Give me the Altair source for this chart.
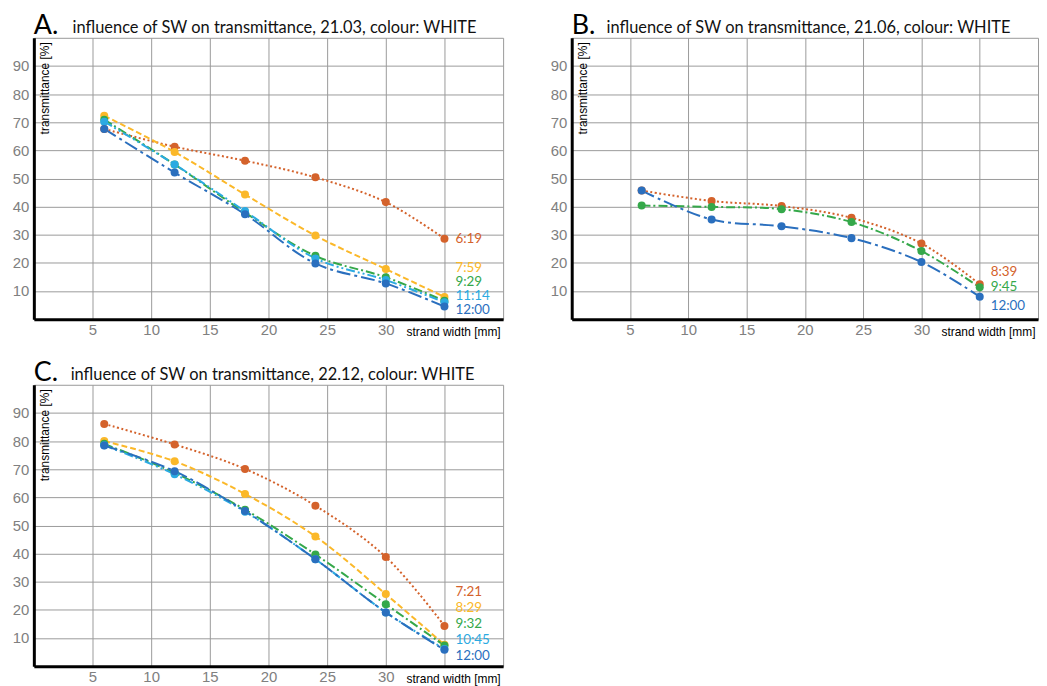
import altair as alt
import pandas as pd

# ---------------- data ----------------
strand_width = [6, 12, 18, 24, 30, 35]
x_ticks = [5, 10, 15, 20, 25, 30, 35]
y_ticks = [10, 20, 30, 40, 50, 60, 70, 80, 90]

# Panel A (21.03)
a_letter = "A."
a_title = "influence of SW on transmittance, 21.03, colour: WHITE"
a_times = ["6:19", "7:59", "9:29", "11:14", "12:00"]
a_roles = ["r1", "r2", "r3", "r4", "r5"]
a_0619 = [67.6, 61.3, 56.3, 50.4, 41.6, 28.6]
a_0759 = [72.3, 59.4, 44.3, 29.7, 17.8, 7.9]
a_0929 = [70.9, 55.0, 37.9, 22.5, 14.9, 6.5]
a_1114 = [70.2, 55.0, 38.4, 21.6, 13.9, 6.0]
a_1200 = [67.6, 52.1, 37.3, 19.8, 12.7, 4.5]

# Panel B (21.06)
b_letter = "B."
b_title = "influence of SW on transmittance, 21.06, colour: WHITE"
b_times = ["8:39", "9:45", "12:00"]
b_roles = ["r1", "r3", "r5"]
b_0839 = [45.7, 42.0, 40.2, 36.0, 26.9, 12.4]
b_0945 = [40.4, 39.9, 39.1, 34.5, 24.2, 11.3]
b_1200 = [45.7, 35.4, 33.0, 28.8, 20.3, 8.0]

# Panel C (22.12)
c_letter = "C."
c_title = "influence of SW on transmittance, 22.12, colour: WHITE"
c_times = ["7:21", "8:29", "9:32", "10:45", "12:00"]
c_roles = ["r1", "r2", "r3", "r4", "r5"]
c_0721 = [86.1, 78.8, 70.1, 57.0, 38.8, 14.3]
c_0829 = [80.0, 72.8, 61.2, 46.1, 25.6, 7.6]
c_0932 = [79.0, 68.7, 55.6, 39.7, 22.0, 7.3]
c_1045 = [78.5, 68.2, 54.9, 38.0, 19.1, 6.1]
c_1200 = [78.4, 69.3, 55.1, 38.0, 19.1, 5.8]

x_title = "strand width [mm]"
y_title = "transmittance [%]"

# ---------------- styles ----------------
ROLES = ["r1", "r2", "r3", "r4", "r5"]
COLORS = ["#D4622B", "#FBB829", "#35A84A", "#2BAAE2", "#2A6FBE"]
DASHES = [[2, 2.5], [6, 3], [9, 3, 2, 3], [9, 3, 2, 3, 2, 3], [14, 4, 3, 4]]
W, H = 472, 283

color_scale = alt.Scale(domain=ROLES, range=COLORS)
dash_scale = alt.Scale(domain=ROLES, range=DASHES)


def label_y(series, base, gap):
    lasts = [s[-1] for s in series]
    ys = [0.0] * len(lasts)
    prev = None
    for i in range(len(lasts) - 1, -1, -1):
        if prev is None:
            ys[i] = base
        else:
            ys[i] = max(lasts[i], prev + gap)
        prev = ys[i]
    return ys


def panel(letter, title, times, roles, series, shapes, base, gap, width=W, title_dx=39):
    rows = []
    for t, r, vals in zip(times, roles, series):
        for x, v in zip(strand_width, vals):
            rows.append({"x": x, "v": v, "time": t, "role": r})
    df = pd.DataFrame(rows)
    lab = pd.DataFrame({
        "x": [strand_width[-1]] * len(times),
        "v": label_y(series, base, gap),
        "time": times,
        "role": roles,
    })

    x_enc = alt.X(
        "x:Q",
        scale=alt.Scale(domain=[0, 40], nice=False, zero=False),
        axis=alt.Axis(
            values=x_ticks,
            tickCount=20,
            labelExpr="datum.value == 35 ? '' : datum.label",
            title=x_title,
            titleX=width - 3,
            titleY=12,
            titleAlign="right",
            titleBaseline="middle",
            labelPadding=3,
            labelOverlap=False,
        ),
    )
    y_enc = alt.Y(
        "v:Q",
        scale=alt.Scale(domain=[0, 100], nice=False),
        axis=alt.Axis(
            values=y_ticks,
            tickCount=20,
            title=y_title,
            titleAngle=-90,
            titleX=11,
            titleY=4,
            titleAlign="right",
            titleBaseline="middle",
            labelPadding=5,
            labelOverlap=False,
        ),
    )

    base_c = alt.Chart(df)
    lines = base_c.mark_line(interpolate="catmull-rom", strokeWidth=2).encode(
        x=x_enc,
        y=y_enc,
        color=alt.Color("role:N", scale=color_scale, legend=None),
        strokeDash=alt.StrokeDash("role:N", scale=dash_scale, legend=None),
        detail="time:N",
    )
    pts = base_c.mark_point(filled=True, size=65, opacity=1).encode(
        x="x:Q",
        y="v:Q",
        color=alt.Color("role:N", scale=color_scale, legend=None),
        shape=alt.Shape("role:N", scale=alt.Scale(domain=roles, range=shapes), legend=None),
    )
    labels = alt.Chart(lab).mark_text(
        align="left", baseline="middle", dx=11, font="Lato", fontSize=13.5
    ).encode(
        x="x:Q",
        y="v:Q",
        text="time:N",
        color=alt.Color("role:N", scale=color_scale, legend=None),
    )
    head = pd.DataFrame({"letter": [letter], "title": [title]})
    let_mark = alt.Chart(head).mark_text(
        align="left", baseline="alphabetic", font="Lato", fontSize=27, color="black"
    ).encode(x=alt.value(0), y=alt.value(-4), text="letter:N")
    tit_mark = alt.Chart(head).mark_text(
        align="left", baseline="alphabetic", font="Lato", fontSize=16.5, color="#111111"
    ).encode(x=alt.value(title_dx), y=alt.value(-5), text="title:N")

    return alt.layer(lines, pts, labels, let_mark, tit_mark).properties(width=width, height=H)


pa = panel(a_letter, a_title, a_times, a_roles,
           [a_0619, a_0759, a_0929, a_1114, a_1200],
           ["circle"] * 5, 3.3, 5.0, title_dx=39)
pb = panel(b_letter, b_title, b_times, b_roles,
           [b_0839, b_0945, b_1200],
           ["circle"] * 3, 4.8, 5.6, width=469, title_dx=35)
pc = panel(c_letter, c_title, c_times, c_roles,
           [c_0721, c_0829, c_0932, c_1045, c_1200],
           ["square"] + ["circle"] * 4, 3.6, 5.7, title_dx=37)

top = alt.hconcat(pa, pb, spacing=45)
chart = alt.vconcat(top, pc, spacing=20).properties(
    padding={"left": 3, "top": 1, "right": 0, "bottom": 0},
    background="white",
).configure_view(
    stroke="#999999", strokeWidth=1
).configure_axis(
    grid=True,
    gridColor="#9a9a9a",
    gridWidth=1,
    domainColor="black",
    domainWidth=3,
    ticks=False,
    labelFont="Liberation Sans",
    labelFontSize=15,
    labelColor="#808080",
    titleFont="Liberation Sans",
    titleFontSize=12,
    titleFontWeight="normal",
    titleColor="black",
)

chart.save("out.html", embed_options={"renderer": "svg", "actions": False})
